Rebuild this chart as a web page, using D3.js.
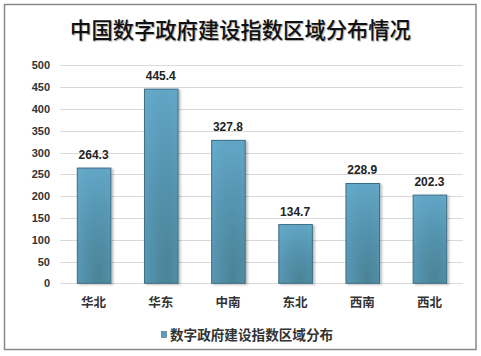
<!DOCTYPE html>
<html><head><meta charset="utf-8">
<script src="https://cdn.jsdelivr.net/npm/d3@7"></script>
<style>
html,body{margin:0;padding:0;background:#fff;}
svg{display:block;}
</style></head>
<body>
<script>
const title = "中国数字政府建设指数区域分布情况";
const categories = ["华北","华东","中南","东北","西南","西北"];
const values = [264.3, 445.4, 327.8, 134.7, 228.9, 202.3];
const yTicks = [0,50,100,150,200,250,300,350,400,450,500];
const seriesName = "数字政府建设指数区域分布";

const W = 481, H = 356;
const svg = d3.select("body").append("svg").attr("width", W).attr("height", H);

const defs = svg.append("defs");
const grad = defs.append("radialGradient").attr("id","barGrad")
  .attr("cx","0.6").attr("cy","0.95").attr("r","1.1").attr("fx","0.65").attr("fy","0.95");
grad.append("stop").attr("offset","0%").attr("stop-color","#4b8396");
grad.append("stop").attr("offset","45%").attr("stop-color","#5493ae");
grad.append("stop").attr("offset","100%").attr("stop-color","#66abcc");
const filt = defs.append("filter").attr("id","shadow").attr("x","-20%").attr("y","-5%").attr("width","150%").attr("height","115%");
filt.append("feDropShadow").attr("dx",2).attr("dy",1).attr("stdDeviation",1.2).attr("flood-color","#000").attr("flood-opacity",0.25);

// border
svg.append("rect").attr("x",4.5).attr("y",4.5).attr("width",471.5).attr("height",345)
  .attr("fill","#fff").attr("stroke","#888").attr("stroke-width",1.5);

svg.append("text").attr("x",240.5).attr("y",38).attr("text-anchor","middle")
  .attr("font-family","'Noto Sans CJK SC', sans-serif").attr("font-size",21.3).attr("font-weight",500)
  .attr("fill","#111").style("text-shadow","1px 1px 1px rgba(0,0,0,0.35)")
  .text(title);

const x = d3.scaleBand().domain(categories).range([60,463]).paddingInner(0.5).paddingOuter(0.25);
const y = d3.scaleLinear().domain([0,500]).range([283.3,65.3]);

const g = svg.append("g");
g.selectAll("line.grid").data(yTicks).join("line").attr("class","grid")
  .attr("x1",60).attr("x2",463).attr("y1",d=>Math.round(y(d))+0.5).attr("y2",d=>Math.round(y(d))+0.5)
  .attr("stroke","#d9d9d9").attr("stroke-width",1);

const yAxis = d3.axisLeft(y).tickValues(yTicks).tickSize(0).tickPadding(0);
const ya = svg.append("g").attr("transform","translate(50,0)").call(yAxis);
ya.select(".domain").remove();
ya.selectAll("text").attr("font-family","'Liberation Sans', Arial, sans-serif").attr("font-size",11)
  .attr("font-weight","bold").attr("fill","#333");

svg.append("g").selectAll("rect").data(values).join("rect")
  .attr("x",(d,i)=>x(categories[i])+0.5).attr("width",x.bandwidth())
  .attr("y",d=>y(d)).attr("height",d=>y(0)-y(d))
  .attr("fill","url(#barGrad)").attr("stroke","#3d6d82").attr("stroke-width",1)
  .attr("filter","url(#shadow)");

svg.append("g").selectAll("text").data(values).join("text")
  .attr("x",(d,i)=>x(categories[i])+x.bandwidth()/2).attr("y",d=>y(d)-9)
  .attr("text-anchor","middle").attr("font-family","'Liberation Sans', Arial, sans-serif")
  .attr("font-size",12).attr("font-weight","bold").attr("fill","#222")
  .text(d=>d.toFixed(1));

const xAxis = d3.axisBottom(x).tickSize(0).tickPadding(0);
const xa = svg.append("g").attr("transform","translate(0,297)").call(xAxis);
xa.select(".domain").remove();
xa.selectAll("text").attr("font-family","'Noto Sans CJK SC', sans-serif").attr("font-size",12.5)
  .attr("font-weight","bold").attr("fill","#333").attr("dy","0.35em").attr("y",6);

const lg = svg.append("g");
lg.append("rect").attr("x",161.5).attr("y",331.5).attr("width",5).attr("height",6)
  .attr("fill","#5a9fbf").attr("stroke","#3d6d82").attr("stroke-width",0.6);
lg.append("text").attr("x",170).attr("y",335).attr("dy","0.35em")
  .attr("font-family","'Noto Sans CJK SC', sans-serif").attr("font-size",13.6)
  .attr("font-weight","bold").attr("fill","#333").text(seriesName);
</script>
</body></html>
